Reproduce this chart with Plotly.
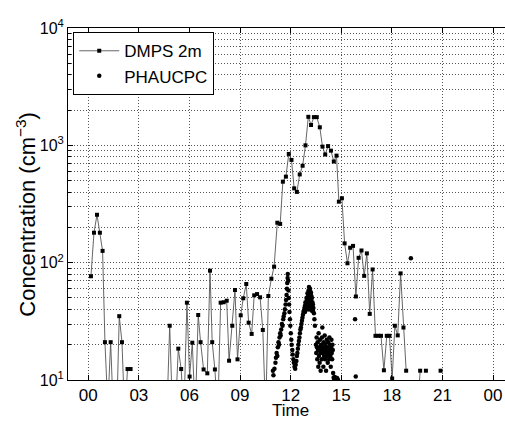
import plotly.graph_objects as go

# ---------------- data ----------------
dmps_time = [0.16, 0.34, 0.52, 0.69, 0.85, 0.99, 1.16, 1.33, 1.49, 1.67, 1.84, 2.00, 2.16, 2.33, 2.51,
             None,
             4.66, 4.83, 5.00, 5.16, 5.34, 5.51, 5.67, 5.85, 6.01, 6.17, 6.34, 6.52, 6.66, 6.84, 7.06,
             7.22, 7.35, 7.51, 7.68, 7.85, 8.03, 8.21, 8.35, 8.54, 8.70, 8.85, 9.04, 9.19, 9.37, 9.51,
             9.69, 9.84, 10.01, 10.19, 10.35, 10.52, 10.68, 10.86, 11.02, 11.21, 11.38, 11.54, 11.72,
             11.89, 12.05, 12.21, 12.37, 12.54, 12.71, 12.88, 13.05, 13.21, 13.38, 13.55, 13.73, 13.89,
             14.05, 14.22, 14.39, 14.56, 14.72, 14.86, 15.04, 15.20, 15.37, 15.53, 15.70, 15.87, 16.03,
             16.20, 16.36, 16.52, 16.69, 16.86, 17.03, 17.20, 17.36, 17.53, 17.70, 17.86, 18.02, 18.18,
             18.35, 18.52, 18.69, 18.85,
             None,
             19.51, 19.68,
             None,
             20.02,
             None,
             20.89]
dmps_conc = [76.6, 180, 256, 180, 126, 21, 6, 21, 5, 4, 35, 21, 5, 12.4, 12.4,
             None,
             5, 29, 5, 5, 18.5, 12.4, 5, 45.6, 10.7, 20.8, 5, 35.8, 21, 12.3, 11.4,
             85.5, 21, 12.3, 5, 45.6, 46, 47.4, 14.6, 29, 58.5, 15, 35.6, 49.7, 65.8, 30.8,
             24.7, 52.7, 54, 50.7, 26.7, 5, 52, 73, 92.5, 219, 214, 490, 541,
             845, 751, 430, 401, 565, 670, 1000, 1750, 1490, 1740, 1740, 1425, 975,
             836, 985, 901, 728, 817, 331, 354, 146, 98.8, 134, 139, 51.5, 110,
             127, 77.2, 120, 36.6, 87.5, 23.8, 23.8, 23.8, 12.1, 23.8, 23.8, 10.3, 29,
             24, 81, 28, 12,
             None,
             5, 12,
             None,
             12,
             None,
             12]

cpc_time = [10.95, 10.98, 11.04, 11.10, 11.13, 11.17, 11.21, 11.24, 11.28, 11.31, 11.34, 11.38, 11.41,
            11.44, 11.48, 11.52, 11.56, 11.59, 11.63, 11.66, 11.70, 11.73, 11.76, 11.78, 11.80, 11.82,
            11.83, 11.86, 11.87, 11.89, 11.91, 11.93, 11.96, 11.98, 12.01, 12.04, 12.06, 12.10, 12.12,
            12.16, 12.19, 12.23, 12.27, 12.30,
            12.34, 12.37, 12.40, 12.43, 12.46, 12.49, 12.52, 12.55, 12.58, 12.61, 12.64, 12.67, 12.70,
            12.73, 12.76, 12.79, 12.82, 12.85, 12.85, 12.88, 12.88, 12.91, 12.91, 12.94, 12.94, 12.97,
            12.97, 13.00, 13.00, 13.00, 13.03, 13.03, 13.03, 13.06, 13.06, 13.06, 13.09, 13.09, 13.09,
            13.12, 13.12, 13.12, 13.15, 13.15, 13.15, 13.15, 13.18, 13.18, 13.18, 13.20, 13.20, 13.20,
            13.23, 13.23, 13.26, 13.26, 13.26, 13.29, 13.29, 13.32, 13.32, 13.35, 13.38, 13.41, 13.44,
            13.50, 13.52, 13.54, 13.56, 13.58, 13.60, 13.62, 13.64, 13.66, 13.68, 13.70, 13.72, 13.74,
            13.76, 13.78, 13.80, 13.82, 13.84, 13.86, 13.88, 13.90, 13.92, 13.94, 13.96, 13.98, 14.00,
            14.02, 14.04, 14.06, 14.08, 14.10, 14.12, 14.14, 14.16, 14.18, 14.20, 14.22, 14.24, 14.26,
            14.28, 14.30, 14.32, 14.34, 14.36, 14.38, 14.40, 14.42, 14.44, 14.46, 14.48, 14.50, 14.52,
            14.55, 14.58, 14.62, 14.66, 14.70, 14.75, 14.80,
            15.82, 15.86, 19.13]
cpc_conc = [12, 11, 12.5, 14, 15.5, 17, 16, 19, 21, 20, 23, 25, 24,
            27, 30, 29, 33, 35, 37, 40, 44, 48, 53, 60, 67, 74,
            80, 70, 58, 50, 44, 38, 33, 29, 25, 22, 20, 18, 16.5,
            15, 14, 13, 12.5, 13.5,
            14.5, 16, 17, 18.5, 20, 21.5, 23, 25, 27, 28, 30, 32, 34,
            36, 38, 39, 41, 43, 38, 46, 40, 45, 40, 50, 42, 48,
            41, 55, 44, 40, 52, 45, 41, 58, 47, 40, 62, 50, 43,
            57, 46, 41, 60, 52, 44, 40, 55, 48, 42, 56, 47, 40,
            52, 44, 50, 42, 39, 46, 40, 44, 39, 41, 37, 33, 29,
            20, 17, 23, 19, 15, 21, 18, 13, 25, 16, 19, 14, 22,
            17, 12, 20, 18, 15, 23, 28, 17, 19, 13, 21, 16, 18,
            24, 15, 20, 17, 12, 19, 22, 16, 18, 14, 21, 17, 19,
            15, 23, 18, 20, 16, 13, 19, 22, 17, 15, 20, 18, 11.5,
            10.5, 10.2, 10.6, 10.3, 10.1, 10.4, 10.1,
            33, 10.7, 109]

x_tickvals = [0, 3, 6, 9, 12, 15, 18, 21, 24]
x_ticktext = ["00", "03", "06", "09", "12", "15", "18", "21", "00"]
y_tickvals = [10, 100, 1000, 10000]
y_ticktext = ["10<sup>1</sup>", "10<sup>2</sup>", "10<sup>3</sup>", "10<sup>4</sup>"]
y_minor = [m * d for d in (10, 100, 1000) for m in range(2, 10)]

FONT = "Liberation Sans, Arial, sans-serif"
GRID = "#555555"
GDASH = "1px,2px"

fig = go.Figure()
fig.add_trace(go.Scatter(
    x=dmps_time, y=dmps_conc, name="DMPS 2m", mode="lines+markers",
    connectgaps=False,
    line=dict(color="#555555", width=0.9),
    marker=dict(symbol="square", size=4, color="black"),
))
fig.add_trace(go.Scatter(
    x=cpc_time, y=cpc_conc, name="PHAUCPC", mode="markers",
    marker=dict(symbol="circle", size=4.5, color="black"),
))

fig.update_layout(
    width=505, height=421,
    margin=dict(l=68, r=0, t=28, b=41),
    paper_bgcolor="white", plot_bgcolor="white",
    font=dict(family=FONT, size=17, color="black"),
    showlegend=True,
    legend=dict(
        x=0.012, y=0.988, xanchor="left", yanchor="top",
        bgcolor="white", bordercolor="black", borderwidth=1,
        font=dict(family=FONT, size=17, color="black"),
        tracegroupgap=0, itemwidth=40,
    ),
    xaxis=dict(
        range=[-1.2, 24.71],
        tickmode="array", tickvals=x_tickvals, ticktext=x_ticktext,
        ticks="inside", ticklen=5, tickcolor="black", tickwidth=1,
        showline=True, linecolor="black", linewidth=1, mirror="ticks",
        showgrid=True, gridcolor=GRID, griddash=GDASH, gridwidth=1,
        zeroline=False,
        tickfont=dict(size=17),
    ),
    yaxis=dict(
        type="log", range=[1, 4],
        tickmode="array", tickvals=y_tickvals, ticktext=y_ticktext,
        ticks="inside", ticklen=5, tickcolor="black", tickwidth=1,
        showline=True, linecolor="black", linewidth=1, mirror=False,
        showgrid=True, gridcolor=GRID, griddash=GDASH, gridwidth=1,
        zeroline=False,
        tickfont=dict(size=16),
        minor=dict(tickmode="array", tickvals=y_minor, ticks="inside", ticklen=3,
                   tickcolor="black", showgrid=True, gridcolor=GRID,
                   griddash=GDASH, gridwidth=1),
    ),
    annotations=[
        dict(text="Time", xref="x", yref="paper", x=12, y=-0.1165,
             xanchor="center", yanchor="bottom", showarrow=False, borderpad=0,
             font=dict(family=FONT, size=17, color="black")),
        dict(text="Concentration (cm<sup>−3</sup>)", xref="paper", yref="paper",
             x=-0.098, y=0.47, xanchor="center", yanchor="middle", textangle=-90,
             showarrow=False, font=dict(family=FONT, size=22, color="black")),
    ],
)

fig.write_html("out.html")
